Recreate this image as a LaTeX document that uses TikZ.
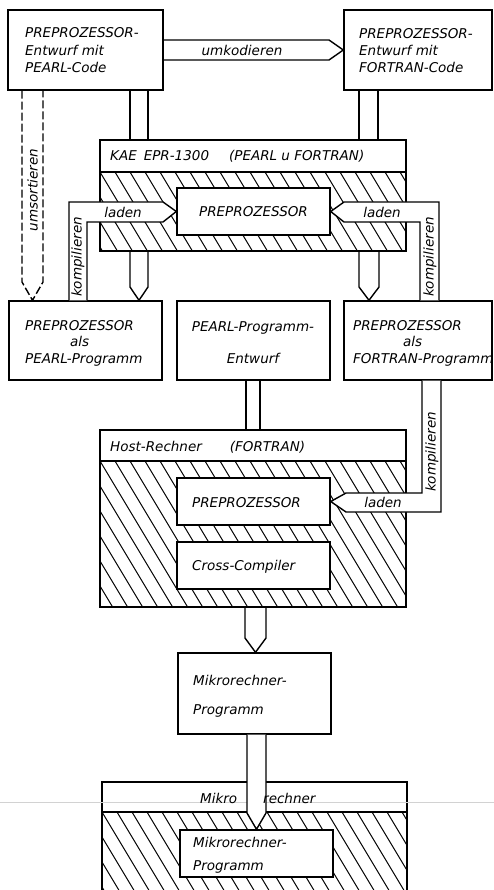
\documentclass[tikz,border=0pt]{standalone}
\usepackage{fontspec}
\setmainfont{DejaVu Sans}
\usetikzlibrary{calc}
\newcommand{\mkbox}[5]{\node[box, minimum width={#4-#2}, minimum height={#5-#3}] (#1) at ({(#2+#4)/2},{(#3+#5)/2}) {};}
\newcommand{\hatchrect}[4]{%
  \begin{scope}
    \clip (#1,#2) rectangle (#3,#4);
    \foreach \k in {-8,...,22}{\draw[hatchline] ({#1+15*\k},#2) -- ++({0.6*(#4-#2)},{#4-#2});}
  \end{scope}}
\begin{document}
\begin{tikzpicture}[x=1pt,y=-1pt,
  every node/.style={font=\itshape\fontsize{13.5}{16.5}\selectfont, inner sep=0pt},
  box/.style={draw, line width=1.4pt, fill=white, rectangle},
  ln/.style={line width=1.4pt, line join=miter},
  dband/.style={ln, dash pattern=on 8pt off 3pt},
  hatchline/.style={line width=1pt},
  txt/.style={align=left, anchor=west}
]
\useasboundingbox (0,0) rectangle (494,890);
\clip (0,0) rectangle (494,890);
\fill[white] (0,0) rectangle (494,890);

% outer hatched boxes
\mkbox{kae}{100}{140}{406}{251}
\mkbox{host}{100}{430}{406}{607}
\mkbox{mikro}{102}{782}{407}{900}
\draw[ln] (kae.west |- 0,172) -- (kae.east |- 0,172);
\draw[ln] (host.west |- 0,461) -- (host.east |- 0,461);
\draw[ln] (mikro.west |- 0,812) -- (mikro.east |- 0,812);
\hatchrect{100}{172}{406}{251}
\hatchrect{100}{461}{406}{607}
\hatchrect{102}{812}{407}{900}

% scan line
\draw[gray!35, line width=0.6pt] (0,802) -- (494,802);

% inner boxes
\mkbox{kpp}{177}{188}{330}{235}
\mkbox{hpp}{177}{478}{330}{525}
\mkbox{hcc}{177}{542}{330}{589}
\mkbox{mpi}{180}{830}{333}{877}

% plain boxes
\mkbox{tl}{8}{10}{163}{90}
\mkbox{tr}{344}{10}{492}{90}
\mkbox{pl}{9}{301}{162}{380}
\mkbox{pe}{177}{301}{330}{380}
\mkbox{fo}{344}{301}{492}{380}
\mkbox{mp}{178}{653}{331}{734}

% umkodieren
\draw[ln] (tl.east |- 0,40) -- (329,40) -- (tr.west) -- (329,60) -- (tl.east |- 0,60);
% double lines to KAE
\draw[ln] (tl.south -| 130,0) -- (kae.north -| 130,0);
\draw[ln] (tl.south -| 148,0) -- (kae.north -| 148,0);
\draw[ln] (tr.south -| 359,0) -- (kae.north -| 359,0);
\draw[ln] (tr.south -| 378,0) -- (kae.north -| 378,0);
% umsortieren
\draw[dband] (tl.south -| 22,0) -- (22,282) -- (pl.north -| 32.5,0) -- (43,282) -- (tl.south -| 43,0);
% KAE to lower boxes
\draw[ln] (kae.south -| 130,0) -- (130,287) -- (pl.north -| 139,0) -- (148,287) -- (kae.south -| 148,0);
\draw[ln] (kae.south -| 359,0) -- (359,287) -- (fo.north -| 369,0) -- (379,287) -- (kae.south -| 379,0);
% laden / kompilieren left
\fill[white] (pl.north -| 69,0) -- (69,202) -- (163,202) -- (kpp.west) -- (163,222) -- (87,222) -- (pl.north -| 87,0) -- cycle;
\draw[ln] (pl.north -| 69,0) -- (69,202) -- (163,202) -- (kpp.west) -- (163,222) -- (87,222) -- (pl.north -| 87,0);
% laden / kompilieren right
\fill[white] (fo.north -| 439,0) -- (439,202) -- (344,202) -- (kpp.east) -- (344,222) -- (420,222) -- (fo.north -| 420,0) -- cycle;
\draw[ln] (fo.north -| 439,0) -- (439,202) -- (344,202) -- (kpp.east) -- (344,222) -- (420,222) -- (fo.north -| 420,0);
% PEARL-Programm-Entwurf to Host
\draw[ln] (pe.south -| 246,0) -- (host.north -| 246,0);
\draw[ln] (pe.south -| 260,0) -- (host.north -| 260,0);
% kompilieren / laden host
\fill[white] (fo.south -| 441,0) -- (441,512) -- (346,512) -- (hpp.east) -- (346,493) -- (422,493) -- (fo.south -| 422,0) -- cycle;
\draw[ln] (fo.south -| 441,0) -- (441,512) -- (346,512) -- (hpp.east) -- (346,493) -- (422,493) -- (fo.south -| 422,0);
% host to Mikrorechner-Programm
\draw[ln] (host.south -| 245,0) -- (245,638) -- (mp.north -| 255.5,0) -- (266,638) -- (host.south -| 266,0);
% Mikrorechner-Programm into Mikrorechner
\fill[white] (mp.south -| 247,0) -- (247,813) -- (mpi.north -| 256.5,0) -- (266,813) -- (mp.south -| 266,0) -- cycle;
\draw[ln] (mp.south -| 247,0) -- (247,813) -- (mpi.north -| 256.5,0) -- (266,813) -- (mp.south -| 266,0);

% texts
\node[txt, font=\itshape\fontsize{13.5}{17.5}\selectfont] (t1) at (25,50.5) {PREPROZESSOR-\\Entwurf mit\\PEARL-Code};
\node[txt, font=\itshape\fontsize{13.5}{17}\selectfont] (t2) at (359,51) {PREPROZESSOR-\\Entwurf mit\\FORTRAN-Code};
\node (uk) at (242,50) {umkodieren};
\node[anchor=west] (kh) at (110,156) {KAE\hspace{7pt}EPR-1300\hspace{20pt}(PEARL u FORTRAN)};
\node (kt) at (kpp) {PREPROZESSOR};
\node (l1) at (123,212) {laden};
\node (l2) at (382,212) {laden};
\node[rotate=90] (k1) at (78,257) {kompilieren};
\node[rotate=90] (k2) at (430,257) {kompilieren};
\node[rotate=90] (us) at (32.5,190) {umsortieren};
\node[txt] (t4) at (25,343) {PREPROZESSOR\\\hspace{45pt}als\\PEARL-Programm};
\node[align=center, font=\itshape\fontsize{13.5}{32}\selectfont] (t5) at (253,343) {PEARL-Programm-\\Entwurf};
\node[txt] (t6) at (353,343) {PREPROZESSOR\\\hspace{50pt}als\\FORTRAN-Programm};
\node[anchor=west] (hh) at (110,447) {Host-Rechner\hspace{28pt}(FORTRAN)};
\node[anchor=west] (ht) at (192,503) {PREPROZESSOR};
\node[anchor=west] (hc) at (192,567) {Cross-Compiler};
\node (l3) at (383,502.5) {laden};
\node[rotate=90] (k3) at (432,452) {kompilieren};
\node[txt, font=\itshape\fontsize{13.5}{29}\selectfont] (t7) at (193,696) {Mikrorechner-\\Programm};
\node[anchor=west] (mh) at (200,798) {Mikro\hspace{26pt}rechner};
\node[txt, font=\itshape\fontsize{13.5}{23}\selectfont] (t8) at (193,855) {Mikrorechner-\\Programm};
\end{tikzpicture}
\end{document}
